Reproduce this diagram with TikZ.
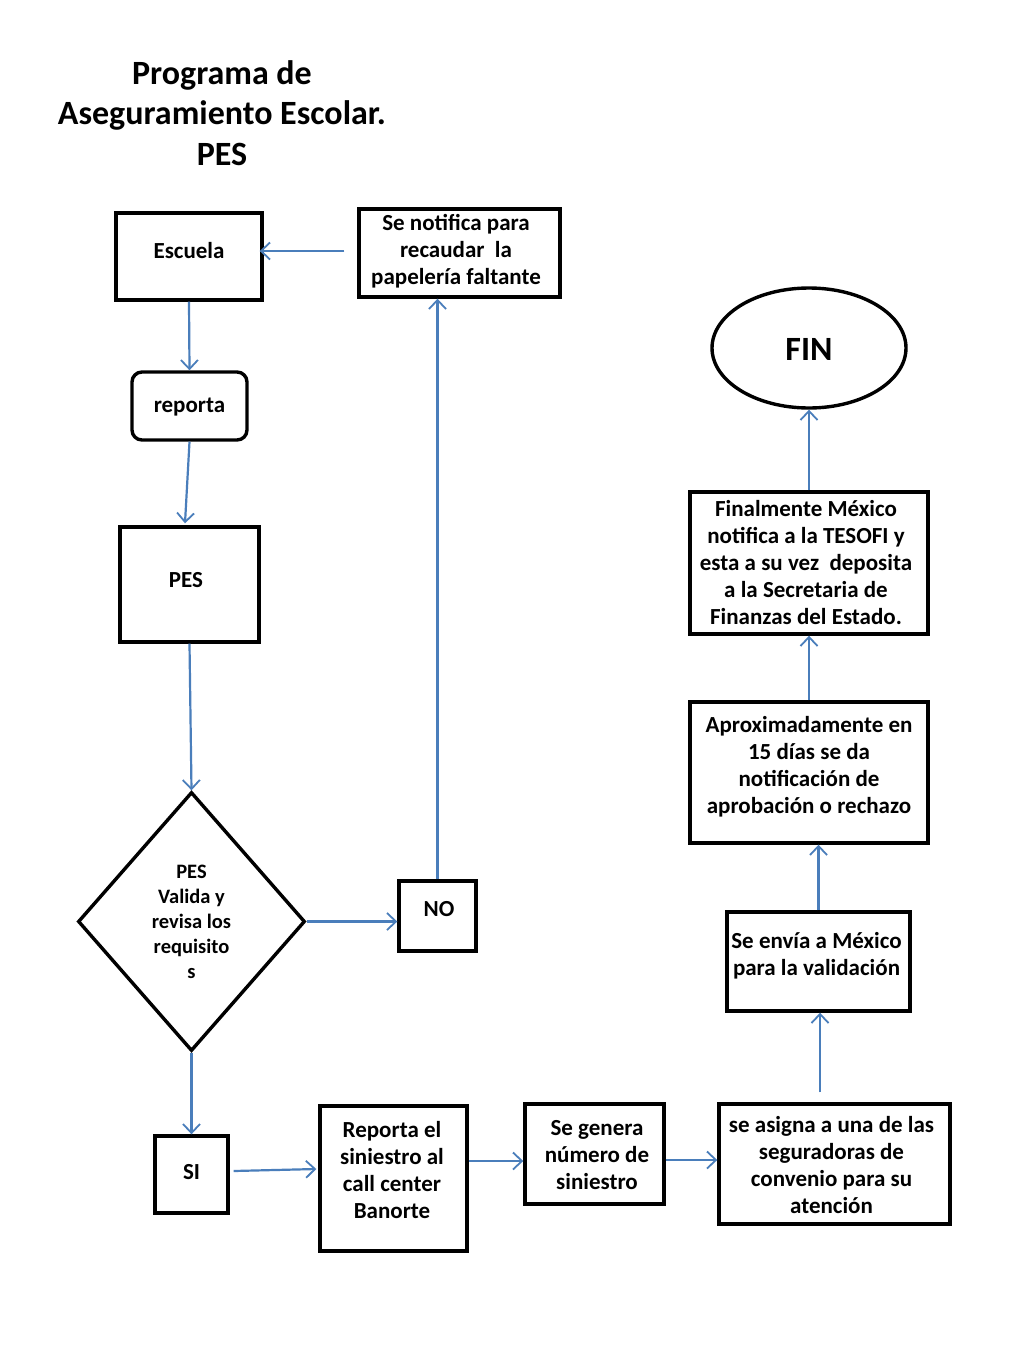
\documentclass[tikz,border=0pt]{standalone}
\usepackage{fontspec}
\setmainfont{Carlito}
\usetikzlibrary{shapes.geometric,arrows.meta}
\begin{document}
\begin{tikzpicture}[x=1pt,y=-1pt,
  box/.style={draw=black,line width=3.4pt,inner sep=0pt},
  txt/.style={align=center,inner sep=0pt,font=\bfseries\fontsize{23}{27}\selectfont},
  conn/.style={draw={rgb,255:red,74;green,126;blue,187},line width=2.2pt,
    -{Straight Barb[length=9pt,width=17pt,line width=1.8pt]}}
]
\useasboundingbox[fill=white] (0,0) rectangle (1024,1365);
\node[align=center,font=\bfseries\fontsize{34}{40.5}\selectfont] (title) at (222,113)
  {Programa de\\Aseguramiento Escolar.\\PES};
% boxes
\node[box,minimum width=146pt,minimum height=87pt] (esc) at (189,256.5) {};
\node[box,minimum width=201pt,minimum height=88pt] (notif) at (459.5,253) {};
\node[box,rounded corners=10pt,minimum width=115pt,minimum height=68pt] (rep) at (189.5,406) {};
\node[box,minimum width=139pt,minimum height=115pt] (pes) at (189.5,584.5) {};
\node[box,shape=diamond,minimum width=227pt,minimum height=259pt] (dia) at (191.5,921.5) {};
\node[box,minimum width=77pt,minimum height=70pt] (no) at (437.5,916) {};
\node[box,minimum width=73pt,minimum height=77pt] (si) at (191.5,1174.5) {};
\node[box,minimum width=147pt,minimum height=145pt] (call) at (393.5,1178.5) {};
\node[box,minimum width=139pt,minimum height=100pt] (gen) at (594.5,1154) {};
\node[box,minimum width=231pt,minimum height=120pt] (asig) at (834.5,1164) {};
\node[box,minimum width=183pt,minimum height=99pt] (env) at (818.5,961.5) {};
\node[box,minimum width=238pt,minimum height=141pt] (aprox) at (809,772.5) {};
\node[box,minimum width=238pt,minimum height=142pt] (finm) at (809,563) {};
\node[box,shape=ellipse,minimum width=194pt,minimum height=120pt] (fin) at (809,348) {};
% texts
\node[txt] (esct) at (189,251) {Escuela};
\node[txt] (notift) at (456,251.5) {Se notifica para\\recaudar\ \ la\\papelería faltante};
\node[txt] (rept) at (189.5,407) {reporta};
\node[txt] (pest) at (186,580) {PES};
\node[txt,font=\bfseries\fontsize{20.5}{25}\selectfont] (diat) at (191.5,922) {PES\\Valida y\\revisa los\\requisito\\s};
\node[txt] (not) at (439,909) {NO};
\node[txt] (sit) at (191.5,1172) {SI};
\node[txt] (callt) at (392,1170) {Reporta el\\siniestro al\\call center\\Banorte};
\node[txt] (gent) at (597,1155) {Se genera\\número de\\siniestro};
\node[txt] (asigt) at (831.5,1164.5) {se asigna a una de las\\seguradoras de\\convenio para su\\atención};
\node[txt] (envt) at (816.5,955.5) {Se envía a México\\para la validación};
\node[txt] (aproxt) at (809,767) {Aproximadamente en\\15 días se da\\notificación de\\aprobación o rechazo};
\node[txt] (finmt) at (806,562.5) {Finalmente México\\notifica a la TESOFI y\\esta a su vez\ \ deposita\\a la Secretaria de\\Finanzas del Estado.};
\node[txt,font=\bfseries\fontsize{34}{40}\selectfont] (fint) at (809,349) {FIN};
% connectors
\coordinate (a1) at ([xshift=-13pt,yshift=2pt]notif.west);
\coordinate (c1) at ([yshift=17.5pt]call.east);
\coordinate (g1) at ([yshift=-6pt]gen.east);
\coordinate (s1) at ([xshift=4pt,yshift=3.5pt]si.east);
\coordinate (s2) at ([xshift=-2pt,yshift=9.5pt]call.west);
\coordinate (as1) at ([xshift=-14.5pt,yshift=10pt]asig.north);
\draw[conn] (a1) -- ([xshift=-4pt]esc.east |- a1);
\draw[conn] (esc.south) -- (rep.north);
\draw[conn] (rep.south) -- ([xshift=-4.5pt,yshift=2pt]pes.north);
\draw[conn] (pes.south) -- (dia.north);
\draw[conn] (dia.east) -- (no.west |- dia.east);
\draw[conn] (no.north) -- (no.north |- notif.south);
\draw[conn] (dia.south) -- (si.north);
\draw[conn] (s1) -- (s2);
\draw[conn] (c1) -- (gen.west |- c1);
\draw[conn] (g1) -- (asig.west |- g1);
\draw[conn] (as1) -- (as1 |- env.south);
\draw[conn] (env.north) -- (env.north |- aprox.south);
\draw[conn] (aprox.north) -- (finm.south);
\draw[conn] (finm.north) -- (fin.south);
\end{tikzpicture}
\end{document}
